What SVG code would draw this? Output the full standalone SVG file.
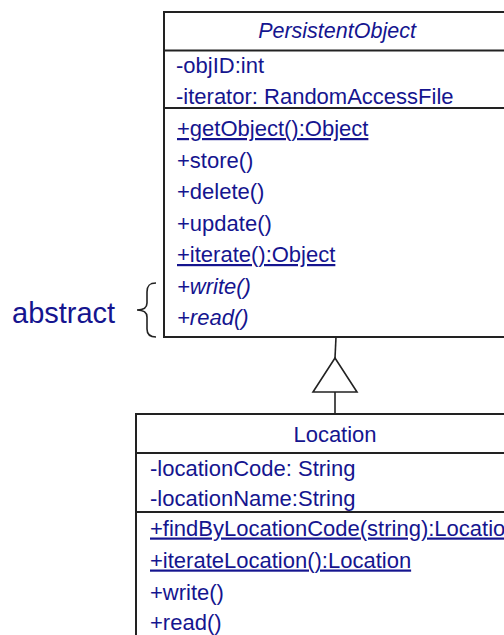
<svg xmlns="http://www.w3.org/2000/svg" width="504" height="635" viewBox="0 0 504 635">
<style>
.t{font-family:"Liberation Sans",Arial,Helvetica,sans-serif;font-size:22px;fill:#15158f}
.i{font-style:italic}
.u{text-decoration:underline}
.box{fill:#fff;stroke:#222;stroke-width:2}
.sep{stroke:#222;stroke-width:2}
.con{fill:none;stroke:#222;stroke-width:1.6}
</style>
<rect width="504" height="635" fill="#fff"/>
<g id="PersistentObject">
<rect class="box" x="164" y="12" width="360" height="325"/>
<line class="sep" x1="164" y1="50.5" x2="524" y2="50.5"/>
<line class="sep" x1="164" y1="108" x2="524" y2="108"/>
<text class="t i" x="337" y="38" text-anchor="middle" style="font-size:21.5px">PersistentObject</text>
<text class="t" x="176" y="73">-objID:int</text>
<text class="t" x="176" y="104">-iterator: RandomAccessFile</text>
<text class="t u" x="177" y="136">+getObject():Object</text>
<text class="t" x="177" y="167.5">+store()</text>
<text class="t" x="177" y="199">+delete()</text>
<text class="t" x="177" y="230.5">+update()</text>
<text class="t u" x="177" y="262">+iterate():Object</text>
<text class="t i" x="177" y="293.5">+write()</text>
<text class="t i" x="177" y="325">+read()</text>
</g>
<g id="Location">
<rect class="box" x="136" y="414" width="390" height="240"/>
<line class="sep" x1="136" y1="453" x2="526" y2="453"/>
<line class="sep" x1="136" y1="512" x2="526" y2="512"/>
<text class="t" x="335" y="442" text-anchor="middle">Location</text>
<text class="t" x="150" y="476">-locationCode: String</text>
<text class="t" x="150" y="506">-locationName:String</text>
<text class="t u" x="150" y="535.5">+findByLocationCode(string):Location</text>
<text class="t u" x="150" y="567.5">+iterateLocation():Location</text>
<text class="t" x="150" y="600">+write()</text>
<text class="t" x="150" y="630">+read()</text>
</g>
<g id="abstract-note">
<text class="t" x="12" y="323" style="font-size:29px">abstract</text>
<path class="con" d="M156,283 C149,283 147,286 147,292 L147,303 C147,307 144,310 137,310 C144,310 147,313 147,317 L147,329 C147,334 149,337 156,337"/>
</g>
<g id="connectors">
<path class="con" d="M336,337 L335,358"/>
<path class="con" d="M335,358 L313,392 L357,392 Z"/>
<path class="con" d="M335,392 L335,414"/>
</g>
</svg>
